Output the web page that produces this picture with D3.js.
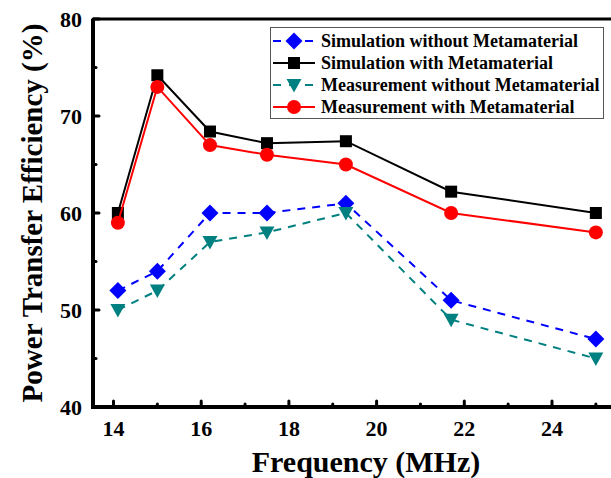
<!DOCTYPE html>
<html>
<head>
<meta charset="utf-8">
<script src="https://cdn.jsdelivr.net/npm/d3@7"></script>
<style>
  body { margin:0; background:#fff; }
</style>
</head>
<body>
<div id="vis"></div>
<script>
/* Data */
const freq        = [14.1, 15.0, 16.2, 17.5, 19.3, 21.7, 25.0];
const simWithout  = [52, 54, 60, 60, 61, 51, 47];
const simWith     = [60, 74.2, 68.4, 67.2, 67.4, 62.2, 60];
const measWithout = [50, 52, 57, 58, 60, 49, 45];
const measWith    = [59, 73, 67, 66, 65, 60, 58];
const seriesNames = ["Simulation without Metamaterial", "Simulation with Metamaterial",
                     "Measurement without Metamaterial", "Measurement with Metamaterial"];
const xTicks = [14, 16, 18, 20, 22, 24];
const yTicks = [40, 50, 60, 70, 80];

const series = [
  {name:seriesNames[0], vals:simWithout,  color:"#0000ff", dash:"8,7", sym:"diamond"},
  {name:seriesNames[1], vals:simWith,     color:"#000000", dash:null,  sym:"square"},
  {name:seriesNames[2], vals:measWithout, color:"#008080", dash:"8,7", sym:"triangle"},
  {name:seriesNames[3], vals:measWith,    color:"#ff0000", dash:null,  sym:"circle"}
];

const W = 611, H = 478;
const plotL = 93, plotT = 19, plotB = 407;
const x = d3.scaleLinear().domain([14, 24]).range([113.5, 552]);
const y = d3.scaleLinear().domain([40, 80]).range([plotB, plotT]);

const svg = d3.select("#vis").append("svg").attr("width", W).attr("height", H)
  .attr("font-family","'Times New Roman','Liberation Serif','DejaVu Serif',serif")
  .attr("font-weight","bold");

/* markers */
function marker(g, sym, color){
  if(sym==="diamond")
    g.append("path").attr("d","M0,-8.5L8.5,0L0,8.5L-8.5,0Z").attr("fill",color);
  else if(sym==="square")
    g.append("rect").attr("x",-6).attr("y",-6).attr("width",12).attr("height",12).attr("fill",color);
  else if(sym==="triangle")
    g.append("path").attr("d","M-7.5,-6L7.5,-6L0,7.5Z").attr("fill",color);
  else
    g.append("circle").attr("r",7).attr("fill",color);
}

const line = d3.line().x(d => x(d[0])).y(d => y(d[1]));

series.forEach(s => {
  const pts = freq.map((f,i) => [f, s.vals[i]]);
  svg.append("path").datum(pts)
    .attr("d", line).attr("fill","none")
    .attr("stroke", s.color).attr("stroke-width", 2)
    .attr("stroke-dasharray", s.dash);
  pts.forEach(p => {
    const g = svg.append("g").attr("transform", `translate(${x(p[0])},${y(p[1])})`);
    marker(g, s.sym, s.color);
  });
});

/* Axes frame */
svg.append("line").attr("x1",plotL).attr("x2",W+5).attr("y1",plotT).attr("y2",plotT)
  .attr("stroke","#000").attr("stroke-width",3);
svg.append("path").attr("d",`M${plotL},${plotT}V${plotB}H${W+5}`)
  .attr("fill","none").attr("stroke","#000").attr("stroke-width",4);

/* Ticks (inward) */
const yMinor = d3.range(45, 80, 10);
yTicks.forEach(t => {
  svg.append("line").attr("x1",plotL).attr("x2",plotL+6).attr("y1",y(t)).attr("y2",y(t))
    .attr("stroke","#000").attr("stroke-width",3).attr("stroke-linecap","round");
  svg.append("text").attr("x",plotL-11).attr("y",y(t)).attr("dy","0.35em")
    .attr("text-anchor","end").attr("font-size",22).text(t);
});
yMinor.forEach(t => {
  svg.append("line").attr("x1",plotL).attr("x2",plotL+3).attr("y1",y(t)).attr("y2",y(t))
    .attr("stroke","#000").attr("stroke-width",3).attr("stroke-linecap","round");
});
const xMinor = d3.range(15, 26, 2);
xTicks.forEach(t => {
  svg.append("line").attr("x1",x(t)).attr("x2",x(t)).attr("y1",plotB).attr("y2",plotB-6)
    .attr("stroke","#000").attr("stroke-width",3).attr("stroke-linecap","round");
  svg.append("text").attr("x",x(t)).attr("y",436)
    .attr("text-anchor","middle").attr("font-size",22).text(t);
});
xMinor.forEach(t => {
  svg.append("line").attr("x1",x(t)).attr("x2",x(t)).attr("y1",plotB).attr("y2",plotB-3)
    .attr("stroke","#000").attr("stroke-width",3).attr("stroke-linecap","round");
});

/* Axis titles */
svg.append("text").attr("x",366).attr("y",472).attr("text-anchor","middle")
  .attr("font-size",30).text("Frequency (MHz)");
svg.append("text").attr("transform","translate(42,213) rotate(-90)")
  .attr("text-anchor","middle").attr("font-size",29).text("Power Transfer Efficiency (%)");

/* Legend */
const lg = svg.append("g");
lg.append("rect").attr("x",270.5).attr("y",27.5).attr("width",333).attr("height",91)
  .attr("fill","#fff").attr("stroke","#555").attr("stroke-width",1);
const rowY = [41, 63, 85, 107];
series.forEach((s,i) => {
  lg.append("line").attr("x1",273).attr("x2",315).attr("y1",rowY[i]).attr("y2",rowY[i])
    .attr("stroke",s.color).attr("stroke-width",2).attr("stroke-dasharray", s.dash ? "8,8" : null);
  marker(lg.append("g").attr("transform",`translate(294,${rowY[i]})`), s.sym, s.color);
  lg.append("text").attr("x",321).attr("y",rowY[i]).attr("dy","0.35em")
    .attr("font-size",18).text(s.name);
});
</script>
</body>
</html>
